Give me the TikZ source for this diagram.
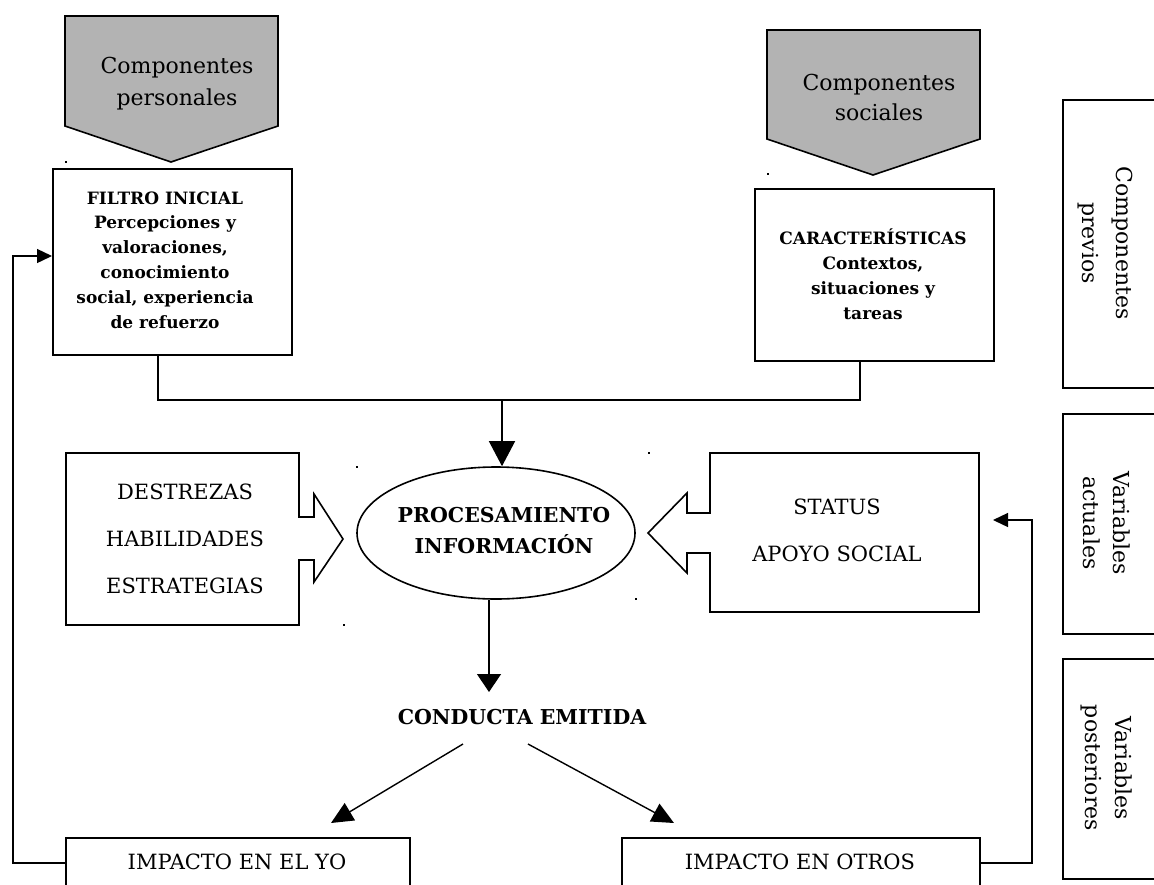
\documentclass[tikz,border=0pt]{standalone}
\usepackage{fontspec}
\setmainfont{DejaVu Serif}
\usetikzlibrary{arrows.meta,shapes.geometric,calc}
\definecolor{panelgray}{RGB}{179,179,179}
\begin{document}
\begin{tikzpicture}[x=1pt,y=-1pt,
  frame/.style={draw, line width=1.6pt, inner sep=0pt, anchor=north west},
  outline/.style={draw, line width=1.6pt, line join=miter},
  banner/.style={outline, fill=panelgray},
  conn/.style={line width=1.4pt},
  label/.style={inner sep=0pt, align=center},
  bigtip/.style={-{Triangle[width=26pt,length=25pt]}},
  midtip/.style={-{Triangle[width=24pt,length=18pt]}},
  diagtip/.style={-{Triangle[width=20pt,length=22pt]}},
  smalltip/.style={-{Triangle[width=14pt,length=15pt]}},
  speck/.style={fill=black}
]
\useasboundingbox (0,0) rectangle (1154,884);
\clip (0,0) rectangle (1154,884);

% grey banners above the two top boxes
\draw[banner] (65,16) -- (278,16) -- (278,126) -- (171,162) -- (65,126) -- cycle;
\draw[banner] (767,30) -- (980,30) -- (980,139) -- (873,175) -- (767,139) -- cycle;
\node[label, font=\fontsize{22}{32}\selectfont] (tpers) at (177,84) {Componentes\\personales};
\node[label, font=\fontsize{22}{30}\selectfont] (tsoc) at (879,97) {Componentes\\sociales};

% top boxes
\node[frame, minimum width=239pt, minimum height=186pt] (filtro) at (52,168) {};
\node[label, font=\bfseries\fontsize{17}{24.8}\selectfont] (tfiltro) at (165,260)
  {FILTRO INICIAL\\Percepciones y\\valoraciones,\\conocimiento\\social, experiencia\\de refuerzo};
\node[frame, minimum width=239pt, minimum height=172pt] (caract) at (754,188) {};
\node[label, font=\bfseries\fontsize{17}{25}\selectfont] (tcaract) at (873,274)
  {CARACTERÍSTICAS\\Contextos,\\situaciones y\\tareas};

% side column
\node[frame, minimum width=110pt, minimum height=288pt] (cprev) at (1062,99) {};
\node[label, rotate=-90, font=\fontsize{22}{34}\selectfont] at (1105,243) {Componentes\\previos};
\node[frame, minimum width=110pt, minimum height=220pt] (vact) at (1062,413) {};
\node[label, rotate=-90, font=\fontsize{22}{30}\selectfont] at (1107,523) {Variables\\actuales};
\node[frame, minimum width=110pt, minimum height=220pt] (vpost) at (1062,658) {};
\node[label, rotate=-90, font=\fontsize{22}{30}\selectfont] at (1107,768) {Variables\\posteriores};

% central processing
\node[draw, ellipse, line width=1.6pt, minimum width=278pt, minimum height=132pt, inner sep=0pt] (proc) at (496,533) {};
\node[label, font=\bfseries\fontsize{20.5}{31}\selectfont] (tproc) at (504,531) {PROCESAMIENTO\\INFORMACIÓN};

% block arrows feeding the processing
\draw[outline] (66,453) -- (299,453) -- (299,517) -- (314,517) -- (314,494) -- (343,539)
  -- (314,582) -- (314,560) -- (299,560) -- (299,625) -- (66,625) -- cycle;
\node[label, font=\fontsize{21}{47}\selectfont] (tskills) at (185,539) {DESTREZAS\\HABILIDADES\\ESTRATEGIAS};
\draw[outline] (979,453) -- (710,453) -- (710,513) -- (687,513) -- (687,493) -- (648,533)
  -- (687,573) -- (687,553) -- (710,553) -- (710,612) -- (979,612) -- cycle;
\node[label, font=\fontsize{21}{47}\selectfont] (tstatus) at (837,530) {STATUS\\APOYO SOCIAL};

% behaviour and impacts
\node[label, font=\bfseries\fontsize{20.5}{24}\selectfont] (conducta) at (522,717) {CONDUCTA EMITIDA};
\node[frame, minimum width=344pt, minimum height=80pt] (yo) at (65,837) {};
\node[label, font=\fontsize{21}{24}\selectfont] at (237,862) {IMPACTO EN EL YO};
\node[frame, minimum width=358pt, minimum height=80pt] (otros) at (621,837) {};
\node[label, font=\fontsize{21}{24}\selectfont] at (800,862) {IMPACTO EN OTROS};

% connector points
\coordinate (jl) at (158,400);
\coordinate (jr) at (860,400);
\coordinate (jm) at (502,400);
\coordinate (cin) at (489,692);
\coordinate (dlstart) at (463,744);
\coordinate (dlend) at (331,823);
\coordinate (drstart) at (528,744);
\coordinate (drend) at (674,823);
\coordinate (loopl) at (13,863);
\coordinate (loopltop) at (13,256);
\coordinate (loopr) at (1032,863);
\coordinate (looprtop) at (1032,520);
\coordinate (looprend) at (993,520);

% connectors
\draw[conn] (filtro.south -| jl) -- (jl) -- (jr) -- (caract.south -| jr);
\draw[conn, bigtip] (jm) -- (proc.north -| jm);
\draw[conn, midtip] (proc.south -| cin) -- (cin);
\draw[conn, diagtip] (dlstart) -- (dlend);
\draw[conn, diagtip] (drstart) -- (drend);
\draw[conn, smalltip] (yo.west |- loopl) -- (loopl) -- (loopltop) -- (filtro.west |- loopltop);
\draw[conn, smalltip] (otros.east |- loopr) -- (loopr) -- (looprtop) -- (looprend);

% stray specks
\foreach \p in {(66,162),(768,174),(357,467),(649,453),(344,625),(636,599)}
  \fill[speck] \p ++(-1.2,-1.2) rectangle ++(2.4,2.4);
\end{tikzpicture}
\end{document}
